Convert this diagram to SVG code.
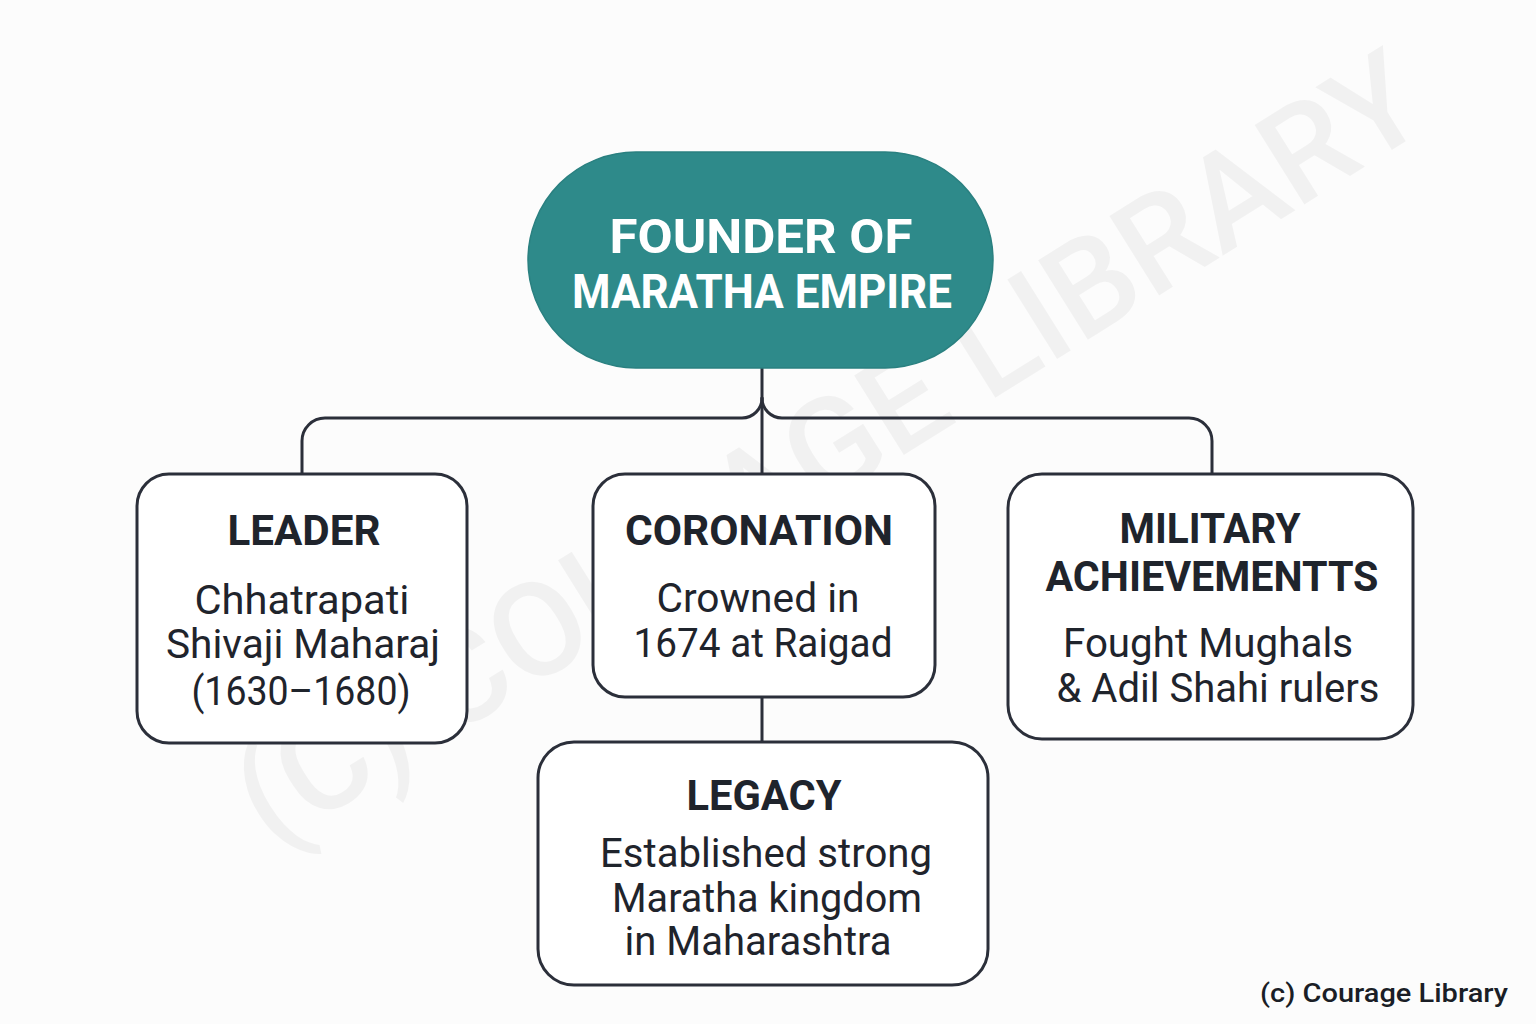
<svg xmlns="http://www.w3.org/2000/svg" width="1536" height="1024" viewBox="0 0 1536 1024">
  <defs>
    <style>
      .bg { fill: #fcfcfc; }
      .box { fill: #ffffff; stroke: #2b2f3a; stroke-width: 3; }
      .root { fill: #2e8a8a; stroke: #2a8080; stroke-width: 1.5; }
      .conn { fill: none; stroke: #2b2f3a; stroke-width: 3; stroke-linecap: round; }
      .rt { font-family: Roboto, "Liberation Sans", sans-serif; font-weight: 700; font-size: 48px; fill: #ffffff; text-anchor: middle; }
      .title { font-family: Roboto, "Liberation Sans", sans-serif; font-weight: 700; font-size: 42px; fill: #1f242c; text-anchor: middle; }
      .body { font-family: Roboto, "Liberation Sans", sans-serif; font-weight: 400; font-size: 40px; fill: #1f242c; text-anchor: middle; }
      .wm { font-family: Roboto, "Liberation Sans", sans-serif; font-weight: 500; font-size: 132px; fill: #000000; fill-opacity: 0.045; text-anchor: middle; }
      .foot { font-family: Roboto, "Liberation Sans", sans-serif; font-weight: 500; font-size: 26px; fill: #1a1e26; text-anchor: end; }
    </style>
  </defs>

  <rect class="bg" x="0" y="0" width="1536" height="1024"/>

  <g id="watermark" transform="translate(828,448) rotate(-32)">
    <text class="wm" x="0" y="46" textLength="1370" lengthAdjust="spacingAndGlyphs">(C) COURAGE LIBRARY</text>
  </g>

  <g id="connectors">
    <path class="conn" d="M762,368 V475"/>
    <path class="conn" d="M762,398 A20,20 0 0 1 742,418 H325 A23,23 0 0 0 302,441 V475"/>
    <path class="conn" d="M762,398 A20,20 0 0 0 782,418 H1189 A23,23 0 0 1 1212,441 V475"/>
    <path class="conn" d="M762,697 V742"/>
  </g>

  <g id="root">
    <rect class="root" x="528" y="152" width="465" height="216" rx="108" ry="108"/>
    <text class="rt" x="761" y="253" textLength="303" lengthAdjust="spacingAndGlyphs">FOUNDER OF</text>
    <text class="rt" x="762" y="308" textLength="380" lengthAdjust="spacingAndGlyphs">MARATHA EMPIRE</text>
  </g>

  <g id="leader">
    <rect class="box" x="137" y="474" width="330" height="269" rx="32" ry="32"/>
    <text class="title" x="304" y="545" textLength="153" lengthAdjust="spacingAndGlyphs">LEADER</text>
    <text class="body" x="302" y="614" textLength="215" lengthAdjust="spacingAndGlyphs">Chhatrapati</text>
    <text class="body" x="303" y="658" textLength="274" lengthAdjust="spacingAndGlyphs">Shivaji Maharaj</text>
    <text class="body" x="301" y="705" textLength="219" lengthAdjust="spacingAndGlyphs">(1630–1680)</text>
  </g>

  <g id="coronation">
    <rect class="box" x="593" y="474" width="342" height="223" rx="32" ry="32"/>
    <text class="title" x="759" y="545" textLength="268" lengthAdjust="spacingAndGlyphs">CORONATION</text>
    <text class="body" x="758" y="612" textLength="203" lengthAdjust="spacingAndGlyphs">Crowned in</text>
    <text class="body" x="763" y="657" textLength="259" lengthAdjust="spacingAndGlyphs">1674 at Raigad</text>
  </g>

  <g id="military">
    <rect class="box" x="1008" y="474" width="405" height="265" rx="34" ry="34"/>
    <text class="title" x="1210" y="543" textLength="181" lengthAdjust="spacingAndGlyphs">MILITARY</text>
    <text class="title" x="1212" y="591" textLength="333" lengthAdjust="spacingAndGlyphs">ACHIEVEMENTTS</text>
    <text class="body" x="1208" y="657" textLength="290" lengthAdjust="spacingAndGlyphs">Fought Mughals</text>
    <text class="body" x="1218" y="702" textLength="323" lengthAdjust="spacingAndGlyphs">&amp; Adil Shahi rulers</text>
  </g>

  <g id="legacy">
    <rect class="box" x="538" y="742" width="450" height="243" rx="36" ry="36"/>
    <text class="title" x="764" y="810" textLength="155" lengthAdjust="spacingAndGlyphs">LEGACY</text>
    <text class="body" x="766" y="867" textLength="332" lengthAdjust="spacingAndGlyphs">Established strong</text>
    <text class="body" x="767" y="912" textLength="310" lengthAdjust="spacingAndGlyphs">Maratha kingdom</text>
    <text class="body" x="758" y="955" textLength="267" lengthAdjust="spacingAndGlyphs">in Maharashtra</text>
  </g>

  <g id="footer">
    <text class="foot" x="1508" y="1002" textLength="248" lengthAdjust="spacingAndGlyphs">(c) Courage Library</text>
  </g>
</svg>
